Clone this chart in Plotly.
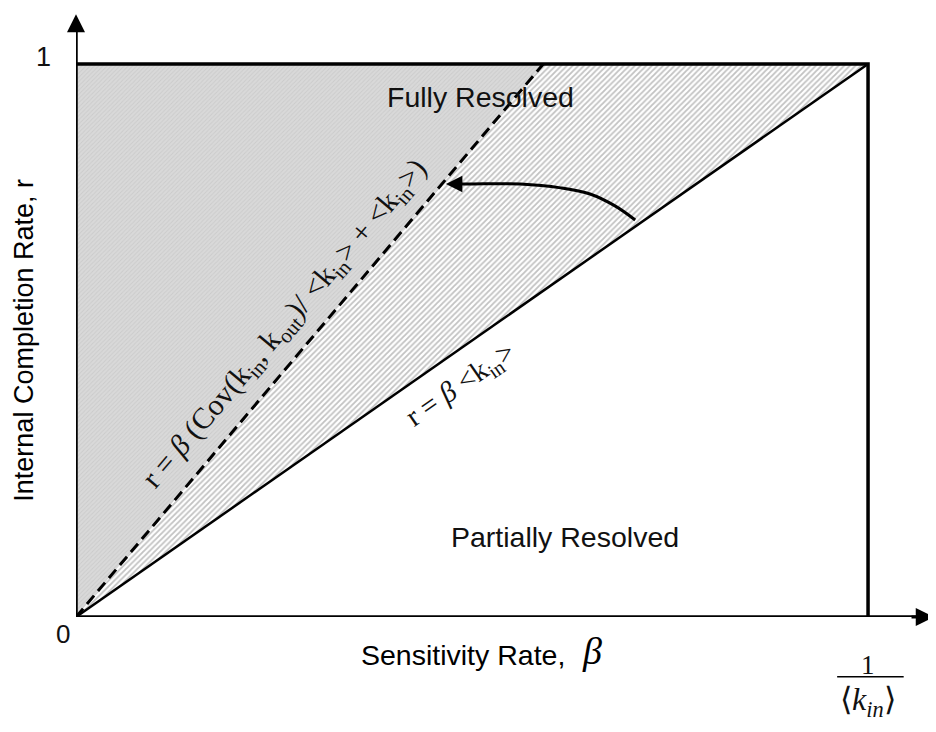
import plotly.graph_objects as go

# Key values (data coordinates)
beta_max = 1.0            # 1/<k_in>
r_max = 1.0
dashed_top_x = 0.59       # where dashed line reaches r=1
x_axis_end = 1.083
y_axis_end = 1.09

# curved arrow path (data coords)
arrow_x = [0.706, 0.681, 0.649, 0.612, 0.561, 0.498, 0.475]
arrow_y = [0.718, 0.743, 0.765, 0.776, 0.783, 0.783, 0.783]
arrow_tip = (0.467, 0.783)

region_labels = ["Fully Resolved", "Partially Resolved"]
region_pos = [(0.511, 0.94), (0.618, 0.145)]

UX = 792.5   # px per unit x
UY = 553.0   # px per unit y
XMAX = 860.5 / UX
YMAX = 609 / UY


def px(x):
    return x / XMAX


def py(y):
    return y / YMAX


fig = go.Figure()

# Fully resolved (upper-left) region
fig.add_trace(go.Scatter(
    x=[0, 0, dashed_top_x, 0], y=[0, r_max, r_max, 0], mode="lines",
    fill="toself", line=dict(width=0), fillcolor="#d6d6d6",
    fillpattern=dict(shape="/", bgcolor="#d9d9d9", fgcolor="#bdbdbd", size=3, solidity=0.3),
    hoverinfo="skip", showlegend=False))
# Middle region
fig.add_trace(go.Scatter(
    x=[0, dashed_top_x, beta_max, 0], y=[0, r_max, r_max, 0], mode="lines",
    fill="toself", line=dict(width=0), fillcolor="white",
    fillpattern=dict(shape="/", bgcolor="white", fgcolor="#858585", size=4, solidity=0.45),
    hoverinfo="skip", showlegend=False))
# dashed line
fig.add_trace(go.Scatter(x=[0, dashed_top_x], y=[0, r_max], mode="lines",
                         line=dict(color="black", width=3, dash="11px,6px"),
                         hoverinfo="skip", showlegend=False))
# solid diagonal
fig.add_trace(go.Scatter(x=[0, beta_max], y=[0, r_max], mode="lines",
                         line=dict(color="black", width=2.5),
                         hoverinfo="skip", showlegend=False))
# box top and right
fig.add_trace(go.Scatter(x=[-0.018, beta_max, beta_max], y=[r_max, r_max, 0], mode="lines",
                         line=dict(color="black", width=3.5),
                         hoverinfo="skip", showlegend=False))
# axes
fig.add_trace(go.Scatter(x=[0, 0], y=[0, y_axis_end - 0.02], mode="lines",
                         line=dict(color="black", width=3.5), hoverinfo="skip", showlegend=False))
fig.add_trace(go.Scatter(x=[0, x_axis_end - 0.02], y=[0, 0], mode="lines",
                         line=dict(color="black", width=3.5), hoverinfo="skip", showlegend=False))
# curved arrow
fig.add_trace(go.Scatter(x=arrow_x, y=arrow_y, mode="lines", line=dict(color="black", width=3, shape="spline"),
                         hoverinfo="skip", showlegend=False))

anns = []
# axis arrowheads
anns.append(dict(x=0, y=y_axis_end, ax=0, ay=y_axis_end - 0.03, xref="x", yref="y", axref="x", ayref="y",
                 showarrow=True, arrowhead=2, arrowsize=1.2, arrowwidth=3, arrowcolor="black", text=""))
anns.append(dict(x=x_axis_end, y=0, ax=x_axis_end - 0.03, ay=0, xref="x", yref="y", axref="x", ayref="y",
                 showarrow=True, arrowhead=2, arrowsize=1.2, arrowwidth=3, arrowcolor="black", text=""))
# curved arrow head
anns.append(dict(x=arrow_tip[0], y=arrow_tip[1], ax=arrow_x[-1] + 0.01, ay=arrow_y[-1], xref="x", yref="y",
                 axref="x", ayref="y", showarrow=True, arrowhead=2, arrowsize=1.1, arrowwidth=3,
                 arrowcolor="black", text=""))

sans = "Liberation Sans, Arial, sans-serif"
serif = "Liberation Serif, Times New Roman, serif"


def txt(x, y, text, family, size, angle=0, color="#111"):
    return dict(x=px(x), y=py(y), xref="paper", yref="paper", text=text, showarrow=False,
                xanchor="center", yanchor="middle", textangle=angle,
                font=dict(family=family, size=size, color=color))


for lab, (lx, ly) in zip(region_labels, region_pos):
    anns.append(txt(lx, ly, lab, sans, 28.5))

anns.append(txt(0.265, 0.53,
                "r = <i>β</i> (Cov(k<sub>in</sub>, k<sub>out</sub>)/ &lt;k<sub>in</sub>&gt; + &lt;k<sub>in</sub>&gt;)",
                serif, 30, -49.6))
anns.append(txt(0.486, 0.42, "r = <i>β</i> &lt;k<sub>in</sub>&gt;", serif, 29, -34.7))

# tick labels
anns.append(txt(-0.041, 1.012, "1", sans, 27))
anns.append(txt(-0.016, -0.031, "0", sans, 26))
anns.append(txt(beta_max, -0.087, "1", serif, 27))
anns.append(txt(beta_max, -0.153, "⟨<i>k<sub>in</sub></i>⟩", serif, 32))

# axis titles
anns.append(txt(0.488, -0.068, "Sensitivity Rate,", sans, 28.5, color="black"))
anns.append(txt(0.651, -0.062, "<i>β</i>", serif, 38, color="black"))
anns.append(txt(-0.066, 0.501, "Internal Completion Rate, r", sans, 27, -90, color="black"))

shapes = [
    dict(type="line", xref="paper", yref="paper", x0=px(0.961), x1=px(1.045), y0=py(-0.108), y1=py(-0.108),
         line=dict(color="black", width=1.5)),
]

fig.update_layout(
    width=928, height=724,
    margin=dict(l=67.5, r=0, t=0, b=115),
    paper_bgcolor="white", plot_bgcolor="white",
    xaxis=dict(range=[0, XMAX], visible=False, fixedrange=True),
    yaxis=dict(range=[0, YMAX], visible=False, fixedrange=True),
    annotations=anns, shapes=shapes, showlegend=False,
)
fig.update_xaxes(showgrid=False, zeroline=False)
fig.update_yaxes(showgrid=False, zeroline=False)

fig.write_html("out.html")
